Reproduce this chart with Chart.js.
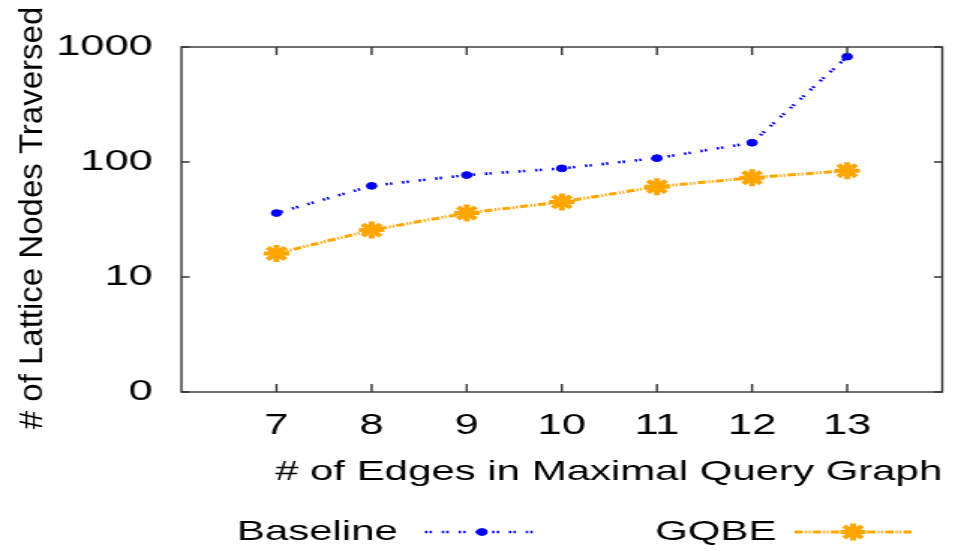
<!DOCTYPE html>
<html>
<head>
<meta charset="utf-8">
<script src="https://cdn.jsdelivr.net/npm/chart.js@4.4.1/dist/chart.umd.min.js"></script>
<style>
  html, body { margin: 0; padding: 0; background: #fff; overflow: hidden; }
  #wrap { width: 641px; height: 551px; transform: scaleX(1.4992); transform-origin: 0 0; }
</style>
</head>
<body>
<div id="wrap"><canvas id="chart" width="641" height="551"></canvas></div>
<script>
// the original picture is stretched sideways, so the canvas is drawn narrow and scaled
const SX = 1.4992;
const FONT = '"Liberation Sans", Arial, Helvetica, sans-serif';

// data
const edgeCounts = [7, 8, 9, 10, 11, 12, 13];
const baselineNodes = [36, 62, 77, 88, 108, 147, 824];
const gqbeNodes = [16, 25.6, 36, 45, 61, 73, 84];
const yTickValues = [1, 10, 100, 1000];
const yTickLabels = ['0', '10', '100', '1000'];
const xTitle = '# of Edges in Maximal Query Graph';
const yTitle = '# of Lattice Nodes Traversed';
const seriesNames = ['Baseline', 'GQBE'];

const BLUE = 'rgb(0, 0, 245)';
const ORANGE = '#ffa500';

// frame, inner tick marks, axis titles and the legend row
const decorPlugin = {
    id: 'decor',
    afterDraw(chart) {
        const ctx = chart.ctx;
        const area = chart.chartArea;
        const xs = chart.scales.x;
        const ys = chart.scales.y;

        ctx.save();
        ctx.strokeStyle = '#333';
        ctx.lineWidth = 1.4;
        ctx.strokeRect(area.left, area.top, area.right - area.left, area.bottom - area.top);

        ctx.beginPath();
        edgeCounts.forEach(v => {
            const px = xs.getPixelForValue(v);
            ctx.moveTo(px, area.bottom);
            ctx.lineTo(px, area.bottom - 8);
            ctx.moveTo(px, area.top);
            ctx.lineTo(px, area.top + 8);
        });
        yTickValues.forEach(v => {
            const py = ys.getPixelForValue(v);
            ctx.moveTo(area.left, py);
            ctx.lineTo(area.left + 5.5, py);
            ctx.moveTo(area.right, py);
            ctx.lineTo(area.right - 5.5, py);
        });
        ctx.stroke();

        // x title, right aligned to the frame
        ctx.fillStyle = '#000';
        ctx.font = '28px ' + FONT;
        ctx.textAlign = 'right';
        ctx.textBaseline = 'middle';
        ctx.fillText(xTitle, area.right, 472);

        // y title, drawn without the sideways stretch
        ctx.save();
        ctx.translate(21.5, 218);
        ctx.scale(1 / SX, 1);
        ctx.rotate(-Math.PI / 2);
        ctx.font = '33px ' + FONT;
        ctx.textAlign = 'center';
        ctx.fillText(yTitle, 0, 0);
        ctx.restore();

        // legend
        const items = [
            { text: 158, x1: 283.5, x2: 360, mark: 321.5 },
            { text: 437, x1: 530, x2: 608, mark: 569 }
        ];
        const legendY = 532;
        items.forEach((it, i) => {
            const ds = chart.data.datasets[i];
            ctx.font = '28px ' + FONT;
            ctx.textAlign = 'left';
            ctx.fillStyle = '#000';
            ctx.fillText(seriesNames[i], it.text, legendY);

            ctx.save();
            ctx.strokeStyle = ds.borderColor;
            ctx.lineWidth = ds.borderWidth;
            ctx.setLineDash(ds.borderDash);
            ctx.beginPath();
            ctx.moveTo(it.x1, legendY);
            ctx.lineTo(it.x2, legendY);
            ctx.stroke();
            ctx.restore();

            ctx.save();
            ctx.fillStyle = ds.pointBackgroundColor;
            ctx.strokeStyle = ds.pointBorderColor;
            ctx.lineWidth = ds.pointBorderWidth;
            Chart.helpers.drawPoint(ctx, {
                pointStyle: ds.pointStyle,
                radius: ds.pointRadius,
                rotation: 0,
                borderWidth: ds.pointBorderWidth
            }, it.mark, legendY);
            ctx.restore();
        });
        ctx.restore();
    }
};

new Chart(document.getElementById('chart'), {
    type: 'line',
    data: {
        datasets: [
            {
                label: seriesNames[0],
                data: edgeCounts.map((x, i) => ({ x: x, y: baselineNodes[i] })),
                borderColor: BLUE,
                borderWidth: 2.6,
                borderDash: [1.6, 1.4, 1.6, 6.6],
                pointStyle: 'circle',
                pointRadius: 3.4,
                pointBackgroundColor: BLUE,
                pointBorderColor: BLUE,
                pointBorderWidth: 1,
                tension: 0
            },
            {
                label: seriesNames[1],
                data: edgeCounts.map((x, i) => ({ x: x, y: gqbeNodes[i] })),
                borderColor: ORANGE,
                borderWidth: 3,
                borderDash: [5.5, 1.5, 1.2, 1.2, 1.2, 1.5],
                pointStyle: 'star',
                pointRadius: 8.5,
                pointBackgroundColor: ORANGE,
                pointBorderColor: ORANGE,
                pointBorderWidth: 4,
                tension: 0
            }
        ]
    },
    options: {
        responsive: false,
        animation: false,
        devicePixelRatio: 1,
        layout: { padding: { left: 0, right: 10, top: 47, bottom: 0 } },
        plugins: {
            legend: { display: false },
            tooltip: { enabled: false }
        },
        scales: {
            x: {
                type: 'linear',
                min: 6,
                max: 14,
                afterBuildTicks: scale => {
                    scale.ticks = edgeCounts.map(v => ({ value: v }));
                },
                afterFit: scale => { scale.height = 159; },
                grid: { display: false, drawTicks: false },
                border: { display: false },
                ticks: {
                    font: { family: FONT, size: 29 },
                    color: '#000',
                    padding: 17,
                    maxRotation: 0,
                    autoSkip: false
                }
            },
            y: {
                type: 'logarithmic',
                min: 1,
                max: 1000,
                afterBuildTicks: scale => {
                    scale.ticks = yTickValues.map(v => ({ value: v }));
                },
                afterFit: scale => { scale.width = 121; },
                grid: { display: false, drawTicks: false },
                border: { display: false },
                ticks: {
                    font: { family: FONT, size: 29 },
                    color: '#000',
                    padding: 19,
                    autoSkip: false,
                    callback: (value, index) => yTickLabels[index]
                }
            }
        }
    },
    plugins: [decorPlugin]
});
</script>
</body>
</html>
